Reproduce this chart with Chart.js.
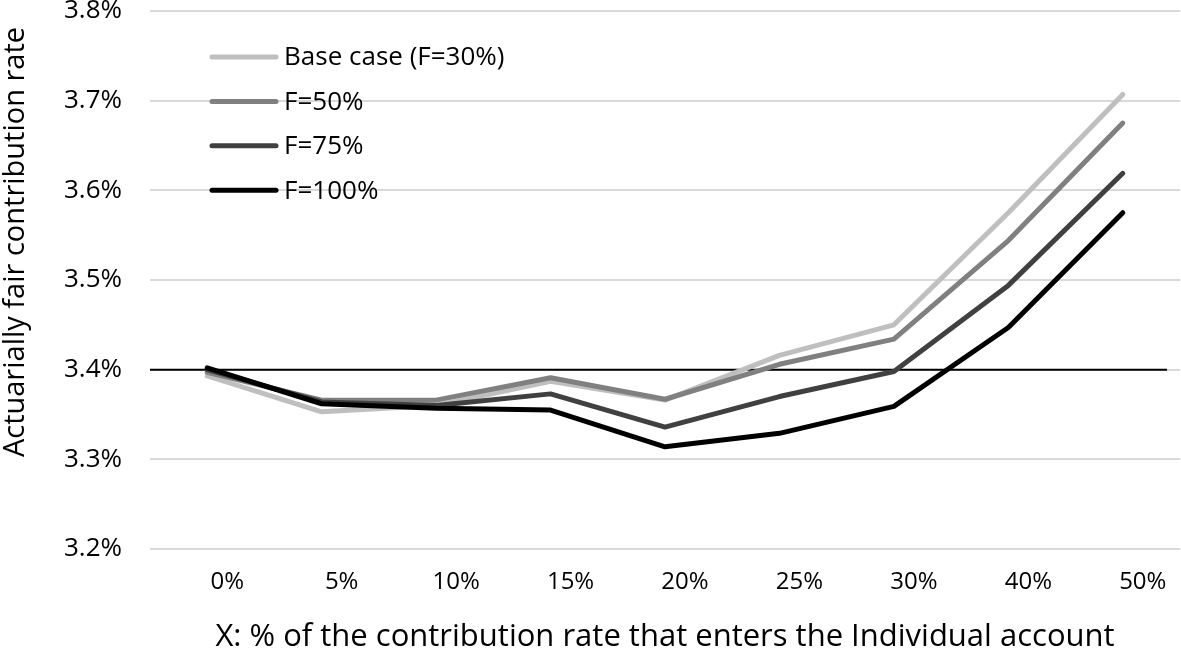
<!DOCTYPE html>
<html>
<head>
<meta charset="utf-8">
<script src="https://cdn.jsdelivr.net/npm/chart.js@4/dist/chart.umd.min.js"></script>
<style>
  html, body { margin: 0; padding: 0; background: #fff; }
  #wrap { width: 1181px; height: 660px; }
</style>
</head>
<body>
<div id="wrap"><canvas id="chart" width="1181" height="660"></canvas></div>
<script>
const FONT = "'Open Sans', 'Liberation Sans', sans-serif";

const categories = ["0%", "5%", "10%", "15%", "20%", "25%", "30%", "40%", "50%"];
const baseCase = [3.393, 3.353, 3.360, 3.387, 3.366, 3.416, 3.450, 3.575, 3.707];
const f50 = [3.397, 3.366, 3.366, 3.391, 3.367, 3.406, 3.434, 3.544, 3.675];
const f75 = [3.400, 3.364, 3.360, 3.373, 3.336, 3.370, 3.398, 3.494, 3.619];
const f100 = [3.402, 3.362, 3.357, 3.355, 3.314, 3.329, 3.359, 3.447, 3.575];
const seriesNames = ["Base case (F=30%)", "F=50%", "F=75%", "F=100%"];
const seriesColors = ["#bfbfbf", "#808080", "#404040", "#000000"];
const refLevel = 3.4;

const yTitle = "Actuarially fair contribution rate";
const xTitle = "X: % of the contribution rate that enters the Individual account";

// black reference line at 3.4%, legend and y title
const extras = {
  id: "extras",
  beforeDatasetsDraw(chart) {
    const { ctx, chartArea } = chart;
    const y = chart.scales.y.getPixelForValue(refLevel);
    ctx.save();
    ctx.strokeStyle = "#000";
    ctx.lineWidth = 2;
    ctx.beginPath();
    ctx.moveTo(chartArea.left, y);
    ctx.lineTo(chartArea.right - 13, y);
    ctx.stroke();
    ctx.restore();
  },
  afterDatasetsDraw(chart) {
    const { ctx } = chart;
    ctx.save();
    ctx.font = "26px " + FONT;
    ctx.textBaseline = "middle";
    ctx.lineCap = "round";
    seriesNames.forEach((name, i) => {
      const y = 57 + i * 44.4;
      ctx.strokeStyle = seriesColors[i];
      ctx.lineWidth = 5;
      ctx.beginPath();
      ctx.moveTo(212, y);
      ctx.lineTo(276, y);
      ctx.stroke();
      ctx.fillStyle = "#000";
      ctx.fillText(name, 284, y + 1);
    });
    ctx.translate(16, 242);
    ctx.rotate(-Math.PI / 2);
    ctx.textAlign = "center";
    ctx.font = "29px " + FONT;
    ctx.fillText(yTitle, 0, 0);
    ctx.restore();
  },
};

const datasets = [baseCase, f50, f75, f100].map((data, i) => ({
  label: seriesNames[i],
  data,
  borderColor: seriesColors[i],
  backgroundColor: seriesColors[i],
  borderWidth: 5,
  borderCapStyle: "round",
  borderJoinStyle: "round",
  pointRadius: 0,
  tension: 0,
  fill: false,
  order: 4 - i,
}));

new Chart(document.getElementById("chart").getContext("2d"), {
  type: "line",
  data: { labels: categories, datasets },
  options: {
    responsive: false,
    animation: false,
    layout: { padding: { top: 11, right: 1, bottom: 0, left: 0 } },
    plugins: { legend: { display: false }, tooltip: { enabled: false } },
    scales: {
      x: {
        offset: true,
        grid: { display: false, drawTicks: false },
        border: { display: false },
        ticks: { color: "#000", font: { family: FONT, size: 24 }, padding: 19, labelOffset: 20 },
        title: {
          display: true,
          text: xTitle,
          color: "#000",
          font: { family: FONT, size: 31 },
          padding: { top: 0, bottom: 4 },
        },
        afterFit(scale) { scale.height = 111; },
      },
      y: {
        min: 3.2,
        max: 3.8,
        grid: { color: "#d9d9d9", lineWidth: 2, drawTicks: false },
        border: { display: false },
        ticks: {
          stepSize: 0.1,
          color: "#000",
          font: { family: FONT, size: 26 },
          padding: 28,
          callback: (v) => v.toFixed(1) + "%",
        },
        afterFit(scale) {
          scale.width = 150;
          scale.paddingTop = 0;
          scale.paddingBottom = 0;
        },
      },
    },
  },
  plugins: [extras],
});
</script>
</body>
</html>
